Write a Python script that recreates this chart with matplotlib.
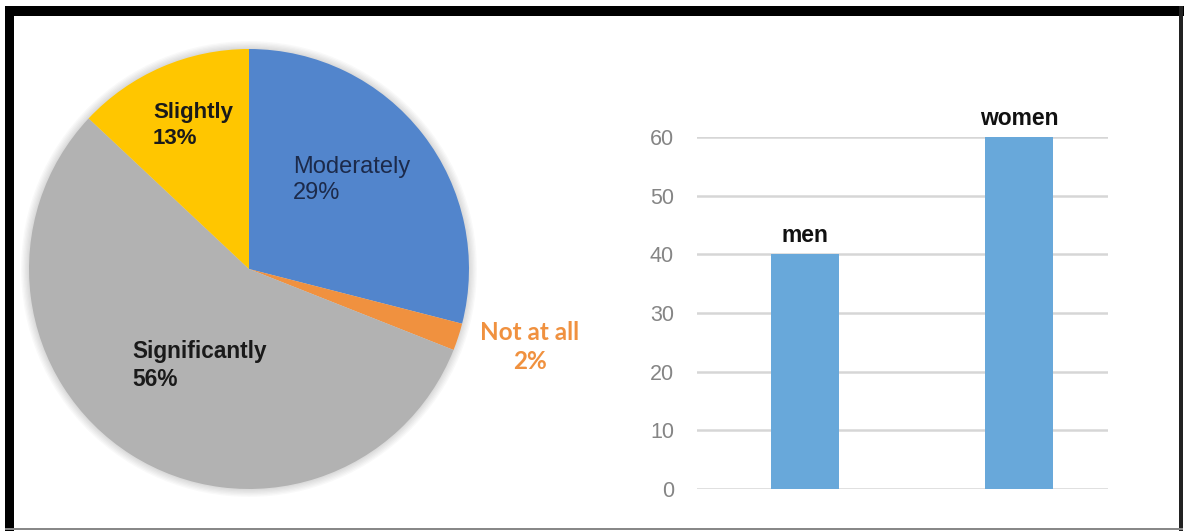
import matplotlib.pyplot as plt
from matplotlib.patches import Rectangle, Circle

# pie data (clockwise from 12 o'clock)
pie_labels = ["Moderately", "Not at all", "Significantly", "Slightly"]
pie_values = [29, 2, 56, 13]
pie_colors = ["#5285cc", "#f0913f", "#b2b2b2", "#ffc600"]

# bar data
categories = ["men", "women"]
bar_values = [40, 60]
yticks = [0, 10, 20, 30, 40, 50, 60]

plt.rcParams["font.family"] = ["Liberation Sans", "DejaVu Sans"]

W, H = 1184, 531
fig = plt.figure(figsize=(W / 100, H / 100), dpi=100)
fig.patch.set_facecolor("white")

# ---- pie ----
cx, cy, r = 249, 269, 220
ax1 = fig.add_axes([(cx - r) / W, (H - cy - r) / H, 2 * r / W, 2 * r / H])
# soft shadow around the pie
for k in range(6):
    ax1.add_patch(Circle((0, 0), 1.0 + 0.006 * (k + 1), color="#000000",
                         alpha=0.025, lw=0, zorder=0, clip_on=False))
ax1.pie(pie_values, colors=pie_colors, startangle=90, counterclock=False,
        radius=1, wedgeprops=dict(linewidth=0))
ax1.set_xlim(-1, 1)
ax1.set_ylim(-1, 1)
ax1.axis("off")

ax1.text(-0.436, 0.652, "Slightly\n13%", ha="left", va="center", fontsize=16,
         fontweight="bold", color="#1a1a1a", linespacing=1.3)
ax1.text(0.2, 0.405, "Moderately\n29%", ha="left", va="center", fontsize=17,
         color="#1c2a4a", linespacing=1.25)
ax1.text(-0.532, -0.439, "Significantly\n56%", ha="left", va="center", fontsize=16.3,
         fontweight="bold", color="#1a1a1a", linespacing=1.3)
ax1.text(1.277, -0.355, "Not at all\n2%", ha="center", va="center", fontsize=17.5,
         fontweight="bold", color="#f0913f", family=["Lato", "DejaVu Sans"],
         linespacing=1.3, clip_on=False)

# ---- bar chart ----
x0, x1, y0, y1 = 697, 1108, 489, 137
ax2 = fig.add_axes([x0 / W, (H - y0) / H, (x1 - x0) / W, (y0 - y1) / H])
bars = ax2.bar(range(len(categories)), bar_values, width=0.315,
               color="#68a8da", zorder=3)
ax2.bar_label(bars, labels=categories, padding=5, fontsize=16.5,
              fontweight="bold", color="#111111")
ax2.set_xlim(-0.505, 1.416)
ax2.set_ylim(0, 60)
ax2.set_yticks(yticks)
ax2.set_xticks([])
ax2.grid(axis="y", color="#d6d6d6", lw=1.8, zorder=0)
for s in ax2.spines.values():
    s.set_visible(False)
ax2.tick_params(axis="y", length=0, pad=16.5, labelsize=15.5, labelcolor="#858585")
for t in ax2.get_yticklabels():
    t.set_clip_on(False)

# ---- frame around the picture ----
def px_rect(x, y, w, h, color):
    fig.add_artist(Rectangle((x / W, 1 - (y + h) / H), w / W, h / H,
                             transform=fig.transFigure, color=color, lw=0))

px_rect(5, 6, 1179, 10, "black")     # top
px_rect(5, 6, 9, 525, "black")       # left
px_rect(1179, 6, 4, 525, "#222222")  # right
px_rect(5, 528, 1178, 2, "#888888")  # bottom

fig.savefig("out.png", dpi=100)
